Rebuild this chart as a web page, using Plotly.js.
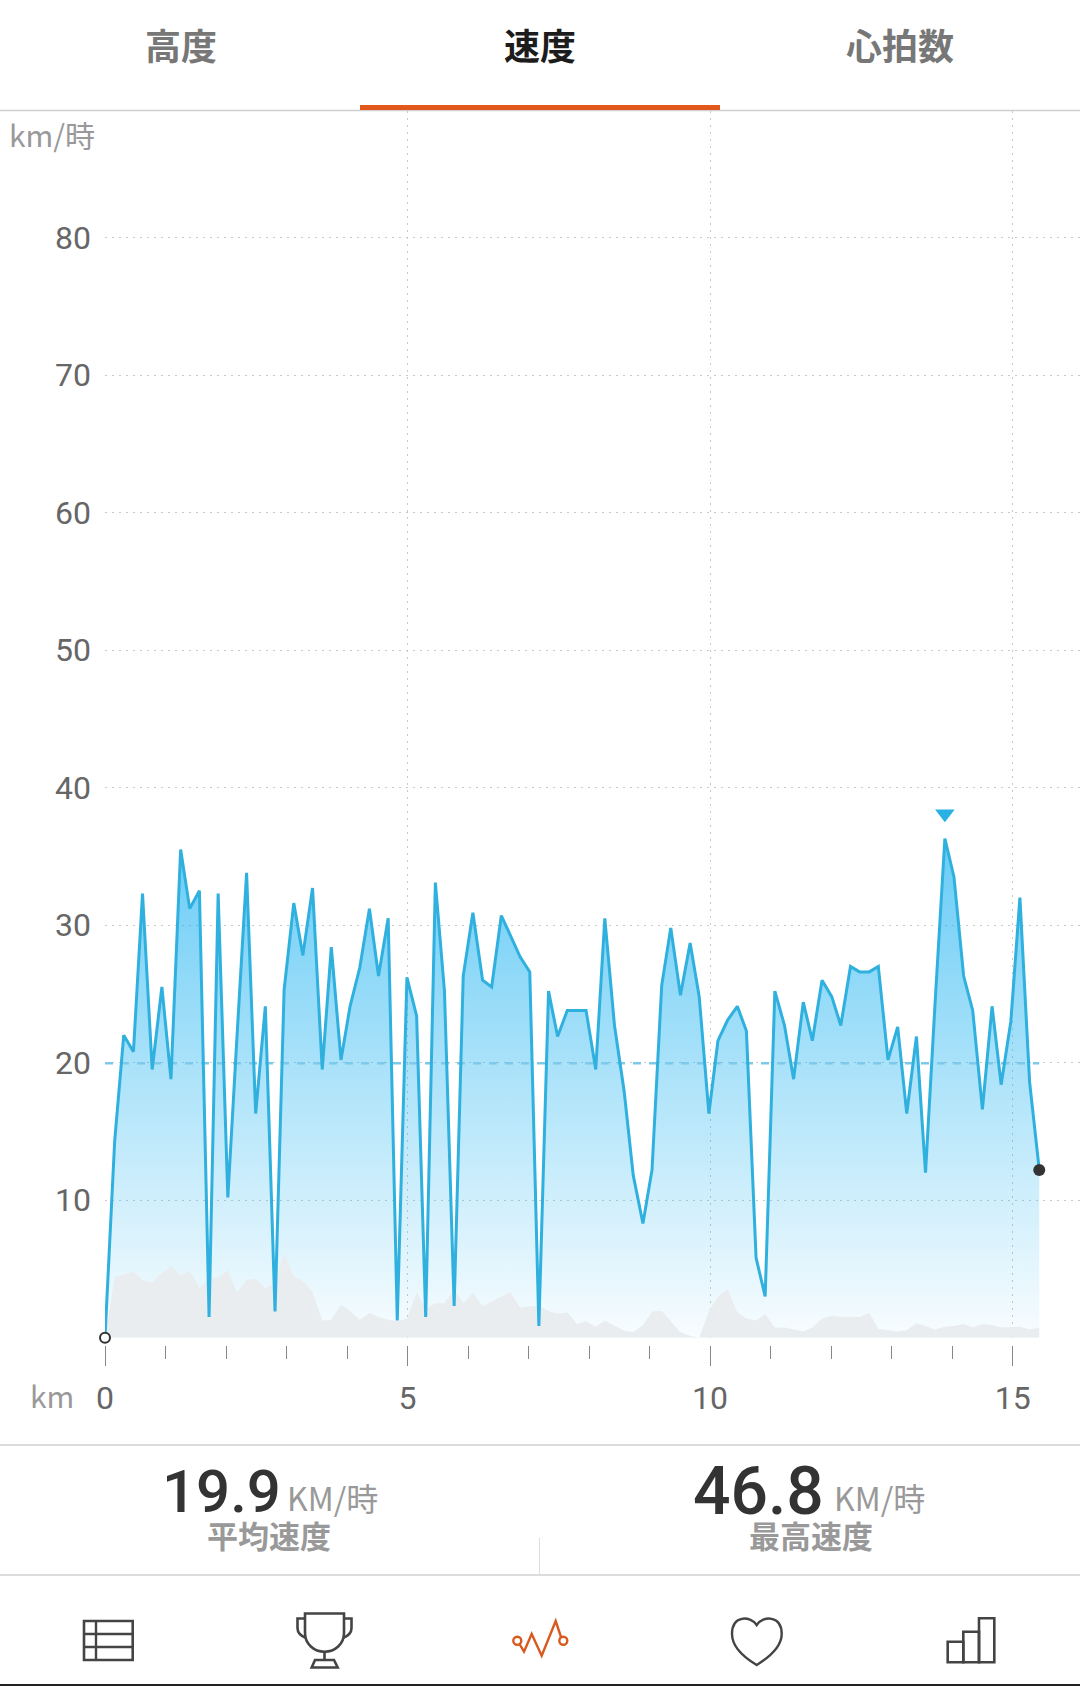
<!DOCTYPE html>
<html><head><meta charset="utf-8">
<script src="https://cdn.plot.ly/plotly-3.0.1.min.js"></script>
<style>html,body{margin:0;padding:0;background:#fff}#chart{width:1080px;height:1686px}</style>
</head><body><div id="chart"></div>
<script>
const distanceKm=[0,.16,.31,.47,.62,.78,.94,1.09,1.25,1.40,1.56,1.72,1.87,2.03,2.18,2.34,2.49,2.65,2.81,2.96,3.12,3.27,3.43,3.59,3.74,3.90,4.05,4.21,4.37,4.52,4.68,4.83,4.99,5.15,5.30,5.46,5.61,5.77,5.92,6.08,6.24,6.39,6.55,6.70,6.86,7.02,7.17,7.33,7.48,7.64,7.80,7.95,8.11,8.26,8.42,8.58,8.73,8.89,9.04,9.20,9.35,9.51,9.67,9.82,9.98,10.13,10.29,10.45,10.60,10.76,10.91,11.07,11.23,11.38,11.54,11.69,11.85,12.01,12.16,12.32,12.47,12.63,12.78,12.94,13.10,13.25,13.41,13.56,13.72,13.88,14.03,14.19,14.34,14.50,14.66,14.81,14.97,15.12,15.28,15.44];
const speedKmh=[0,14.3,22.0,20.8,32.3,19.5,25.5,18.8,35.5,31.2,32.5,1.5,32.3,10.2,21.8,33.8,16.3,24.1,1.9,25.3,31.6,27.8,32.7,19.5,28.4,20.2,24.1,26.9,31.2,26.3,30.5,1.25,26.2,23.4,1.5,33.1,25.2,2.3,26.3,30.9,26.0,25.5,30.7,29.3,27.7,26.6,0.85,25.2,21.9,23.8,23.8,23.8,19.5,30.5,22.7,17.9,11.8,8.3,12.2,25.6,29.8,24.9,28.7,24.8,16.3,21.6,23.1,24.1,22.3,5.8,3.0,25.2,22.7,18.8,24.4,21.6,26.0,24.8,22.7,27.0,26.6,26.6,27.0,20.2,22.6,16.3,21.9,12.0,24.5,36.3,33.5,26.3,23.8,16.6,24.1,18.4,23.0,32.0,18.6,12.2];
const elevationShade=[0,4.4,4.6,4.8,4.2,4.0,4.7,5.2,4.5,4.9,3.6,4.3,4.4,4.9,3.3,4.2,4.3,3.6,4.0,6.1,4.45,4.1,3.3,1.25,1.3,2.4,1.95,1.3,1.8,1.5,1.3,1.2,1.4,3.3,2.1,2.5,2.5,3.5,2.5,3.25,2.3,2.6,3.0,3.3,2.2,2.3,2.35,1.95,1.75,1.85,1.0,1.2,0.8,1.25,0.9,0.5,0.4,0.9,1.9,1.95,1.2,0.4,0.15,0,1.95,3.0,3.5,1.85,1.4,1.25,1.7,0.75,0.75,0.6,0.45,0.75,1.4,1.6,1.5,1.5,1.5,1.8,0.65,0.55,0.45,0.55,1.05,0.85,0.6,0.8,0.85,1.0,0.75,1.0,0.9,0.75,0.8,0.8,0.6,0.75];
const averageSpeed=19.9;
const peakMarkerValue=38.1;
const yTicks=[10,20,30,40,50,60,70,80];
const xTicks=[0,5,10,15];
const xMinorTicks=[1,2,3,4,6,7,8,9,11,12,13,14];
const tabLabels=['高度','速度','心拍数'];
const averageText='19.9', maxText='46.8', unitText='KM/時';

const W=1080,H=1686;
const px=x=>x/W, py=y=>1-y/H;
const CJK='"Noto Sans CJK JP","Noto Sans",sans-serif';
const NUM='Roboto,"Noto Sans",sans-serif';
const last=distanceKm.length-1;
const peak=speedKmh.indexOf(Math.max(...speedKmh));

const traces=[
 {x:distanceKm,y:speedKmh,type:'scatter',mode:'lines',line:{width:0,color:'rgba(0,0,0,0)'},fill:'tozeroy',
  fillgradient:{type:'vertical',start:0,stop:36.3,colorscale:[[0,'rgba(20,175,240,0.03)'],[1,'rgba(20,175,240,0.64)']]}},
 {x:distanceKm,y:elevationShade,type:'scatter',mode:'lines',line:{width:0,color:'rgba(0,0,0,0)'},fill:'tozeroy',fillcolor:'#e9edef'},
 {x:[distanceKm[0],distanceKm[last]],y:[averageSpeed+0.05,averageSpeed+0.05],type:'scatter',mode:'lines',line:{color:'#7cc9ea',width:2.5,dash:'8px,8px'}},
 {x:distanceKm,y:speedKmh,type:'scatter',mode:'lines',line:{color:'#2fb0de',width:3,shape:'linear'}},
 {x:[distanceKm[peak]],y:[peakMarkerValue],type:'scatter',mode:'markers',cliponaxis:false,marker:{symbol:'triangle-down',size:17,color:'#29b0e4',line:{width:0}}},
 {x:[distanceKm[0]],y:[speedKmh[0]],type:'scatter',mode:'markers',cliponaxis:false,marker:{size:10,color:'#fff',line:{color:'#333',width:2}}},
 {x:[distanceKm[last]],y:[speedKmh[last]],type:'scatter',mode:'markers',cliponaxis:false,marker:{size:12,color:'#333',line:{width:0}}}
];

function txt(text,x,y,size,color,anchor){
 return {text:text,xref:'paper',yref:'paper',x:px(x),y:py(y),showarrow:false,xanchor:anchor||'center',yanchor:'middle',
  font:{family:CJK,size:size,color:color},borderpad:0};
}
const annotations=[
 txt('<b>'+tabLabels[0]+'</b>',181,44,36,'#777'),
 txt('<b>'+tabLabels[1]+'</b>',540,44,36,'#1c1c1c'),
 txt('<b>'+tabLabels[2]+'</b>',900,44,36,'#777'),
 txt('km/時',8,134,30,'#999','left'),
 txt('km',52,1395,30,'#999'),
 Object.assign(txt(averageText,221.5,1491,60,'#333'),{font:{family:NUM,size:60,weight:500,color:'#333'}}),
 txt(unitText,332.8,1497,32,'#999'),
 txt('<b>平均速度</b>',269,1534,31,'#999'),
 Object.assign(txt(maxText,758.6,1491,66,'#333'),{font:{family:NUM,size:66,weight:500,color:'#333'}}),
 txt(unitText,879.5,1497,32,'#999'),
 txt('<b>最高速度</b>',810.5,1534,31,'#999')
];

function hline(x0,x1,y,color,w){return {type:'line',xref:'paper',yref:'paper',x0:px(x0),x1:px(x1),y0:py(y),y1:py(y),line:{color:color,width:w||1.5}};}
function vline(x,y0,y1,color,w){return {type:'line',xref:'paper',yref:'paper',x0:px(x),x1:px(x),y0:py(y0),y1:py(y1),line:{color:color,width:w||1}};}
function pathShape(d,color,w){
 const conv=d.replace(/(-?[\d.]+) (-?[\d.]+)/g,(m,a,b)=>px(+a).toFixed(6)+','+py(+b).toFixed(6));
 return {type:'path',xref:'paper',yref:'paper',path:conv,line:{color:color,width:w},fillcolor:'rgba(0,0,0,0)'};
}
function ring(cx,cy,r,color,w){return {type:'circle',xref:'paper',yref:'paper',x0:px(cx-r),x1:px(cx+r),y0:py(cy+r),y1:py(cy-r),line:{color:color,width:w},fillcolor:'rgba(0,0,0,0)'};}
function rect(x0,y0,x1,y1,color){return {type:'rect',xref:'paper',yref:'paper',x0:px(x0),x1:px(x1),y0:py(y0),y1:py(y1),fillcolor:color,line:{width:0}};}
const INK='#444', ORANGE='#d85a1e';
const shapes=[
 hline(0,1080,110.5,'#cfcfcf'),
 rect(360,105,720,110,'#e2571c'),
 hline(0,1080,1445,'#d0d0d0'),
 hline(0,1080,1575,'#d0d0d0'),
 vline(539.5,1538,1575,'#ddd'),
 rect(0,1684,1080,1686,'#222'),
 // table icon
 pathShape('M84 1621 L132.7 1621 L132.7 1660 L84 1660 Z',INK,2.6),
 pathShape('M96 1621 L96 1660',INK,2.4),
 pathShape('M84 1634 L132.7 1634',INK,2.4),
 pathShape('M84 1647 L132.7 1647',INK,2.4),
 // trophy icon
 pathShape('M305 1613.5 L344 1613.5 L344 1633 C344 1644 335 1651.7 324.5 1651.7 C314 1651.7 305 1644 305 1633 Z',INK,2.6),
 pathShape('M305 1618.5 L297.5 1618.5 L297.5 1628 C297.5 1633 301 1636 306 1638',INK,2.6),
 pathShape('M344 1618.5 L351.5 1618.5 L351.5 1628 C351.5 1633 348 1636 343 1638',INK,2.6),
 pathShape('M324.5 1651.7 L324.5 1660',INK,2.6),
 pathShape('M315 1660 L334 1660 L337.7 1667.5 L311.7 1667.5 Z',INK,2.6),
 // wave icon
 ring(517.3,1640.7,4,ORANGE,2.4),
 ring(563.3,1640.7,4,ORANGE,2.4),
 pathShape('M519.5 1644 L524 1651.7 L531.7 1634 L541.7 1655.7 L555.7 1621 L561 1637',ORANGE,2.4),
 // heart icon
 pathShape('M756.7 1625 C750 1615.5 732 1615 732 1634 C732 1648 745 1658 756.7 1665 C768 1658 781.7 1648 781.7 1634 C781.7 1615 763 1615.5 756.7 1625 Z',INK,2.4),
 // bars icon
 pathShape('M947.7 1641.7 L963.3 1641.7 L963.3 1662.3 L947.7 1662.3 Z',INK,2.6),
 pathShape('M963.3 1631.7 L979 1631.7 L979 1662.3 L963.3 1662.3 Z',INK,2.6),
 pathShape('M979 1618.3 L994.3 1618.3 L994.3 1662.3 L979 1662.3 Z',INK,2.6)
];

const layout={
 width:W,height:H,margin:{l:0,r:0,t:0,b:0,pad:0},paper_bgcolor:'#fff',plot_bgcolor:'#fff',showlegend:false,hovermode:false,
 xaxis:{domain:[105/W,1],range:[0,975/60.51],anchor:'free',position:(H-1345)/H,tickmode:'array',tickvals:xTicks,ticktext:xTicks.map(String),
  ticks:'outside',ticklen:20,tickwidth:1,tickcolor:'#888',ticklabelstandoff:5,
  tickfont:{family:NUM,size:32,color:'#666'},showline:false,zeroline:false,showgrid:true,gridcolor:'#c9c9c9',griddash:'2px,5px',gridwidth:1,
  minor:{tickmode:'array',tickvals:xMinorTicks,ticks:'outside',ticklen:13,tickwidth:1,tickcolor:'#888',showgrid:false},fixedrange:true},
 yaxis:{domain:[(H-1337.7)/H,(H-111)/H],range:[0,89.2],anchor:'x',tickmode:'array',tickvals:yTicks,ticktext:yTicks.map(String),ticks:'',
  ticklabelstandoff:13,tickfont:{family:NUM,size:32,color:'#666'},showline:false,zeroline:false,showgrid:true,gridcolor:'#c9c9c9',griddash:'2px,5px',gridwidth:1,fixedrange:true},
 annotations:annotations,shapes:shapes
};
Plotly.newPlot('chart',traces,layout,{displayModeBar:false,staticPlot:true});
</script></body></html>
